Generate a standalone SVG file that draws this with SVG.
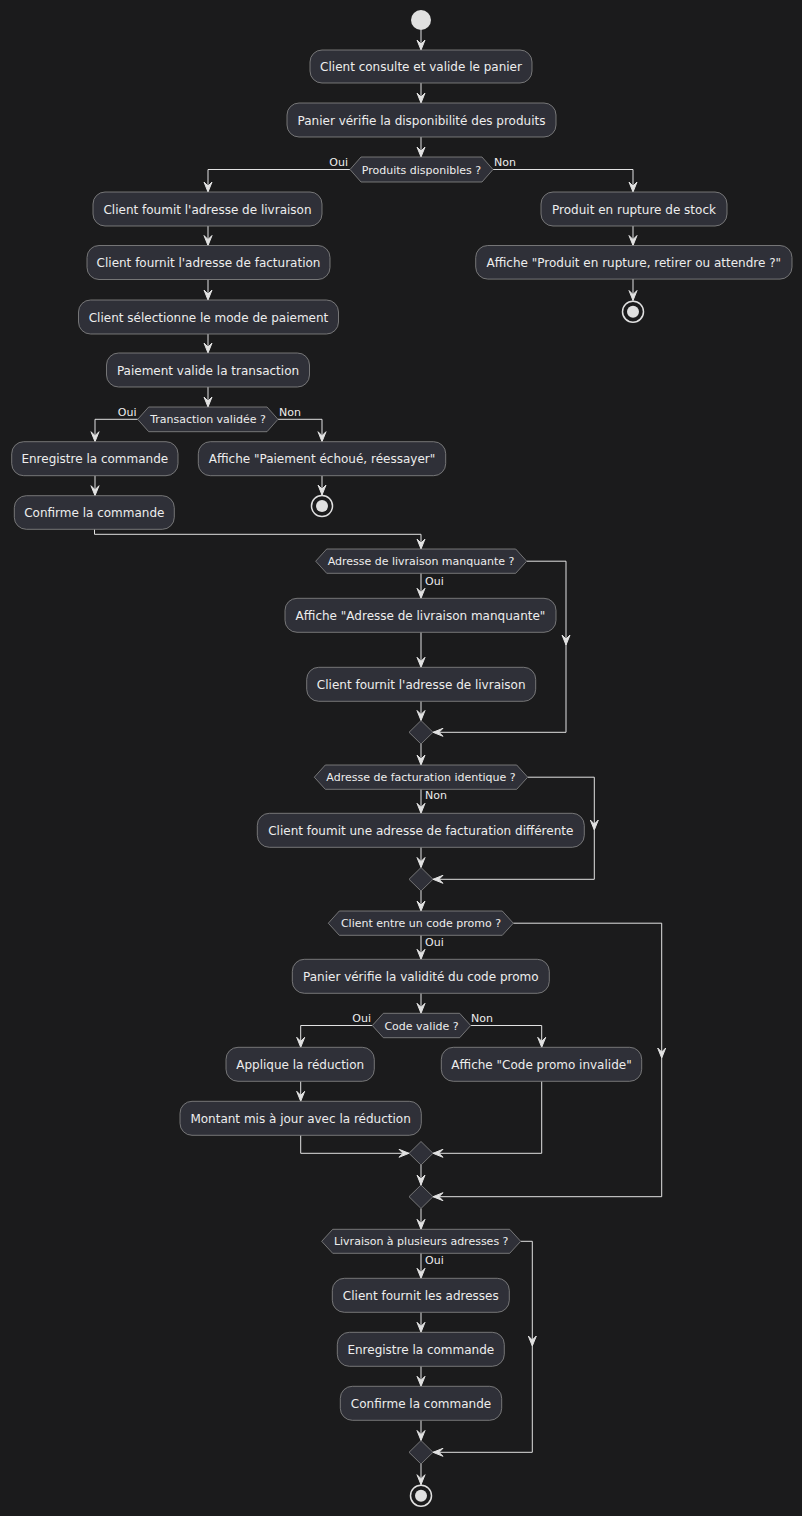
<svg xmlns="http://www.w3.org/2000/svg" xmlns:xlink="http://www.w3.org/1999/xlink" width="802" height="1516" viewBox="0 0 802 1516">
<style>
  .bg { fill: #1b1b1c; }
  .act { fill: #2f3038; stroke: #8a8a8a; stroke-width: 0.8; }
  .dec { fill: #2f3038; stroke: #8a8a8a; stroke-width: 0.8; }
  .t { font-family: "DejaVu Sans", sans-serif; font-size: 12px; fill: #ededed; text-anchor: middle; }
  .dt { font-family: "DejaVu Sans", sans-serif; font-size: 11px; fill: #ededed; text-anchor: middle; }
  .lbl { font-family: "DejaVu Sans", sans-serif; font-size: 11px; fill: #ededed; }
  .ln { fill: none; stroke: #e2e2e2; stroke-width: 1; }
  .ah { fill: #e2e2e2; stroke: #e2e2e2; stroke-width: 1; stroke-linejoin: round; }
  .start { fill: #e0e0e0; }
  .stopo { fill: none; stroke: #e0e0e0; stroke-width: 1.5; }
  .stopi { fill: #e0e0e0; }
</style>
<defs>
  <!-- arrowhead pointing down, tip at the origin -->
  <path id="ah" class="ah" d="M-4,-10 L0,0 L4,-10 L0,-6 Z"/>
</defs>
<rect class="bg" x="0" y="0" width="802" height="1516"/>

<g id="connectors">
  <path class="ln" d="M421,30 V50"/>
  <use href="#ah" transform="translate(421,50)"/>
  <path class="ln" d="M421,83 V103"/>
  <use href="#ah" transform="translate(421,103)"/>
  <path class="ln" d="M421,137 V157"/>
  <use href="#ah" transform="translate(421,157)"/>

  <!-- Produits disponibles ? -->
  <path class="ln" d="M350,169.5 H208 V192"/>
  <use href="#ah" transform="translate(208,192)"/>
  <path class="ln" d="M493,169.5 H633 V192"/>
  <use href="#ah" transform="translate(633,192)"/>

  <!-- left column -->
  <path class="ln" d="M208,226 V245.5"/>
  <use href="#ah" transform="translate(208,245.5)"/>
  <path class="ln" d="M208,279.5 V300"/>
  <use href="#ah" transform="translate(208,300)"/>
  <path class="ln" d="M208,334 V353"/>
  <use href="#ah" transform="translate(208,353)"/>
  <path class="ln" d="M208,387 V407"/>
  <use href="#ah" transform="translate(208,407)"/>

  <!-- Transaction validée ? -->
  <path class="ln" d="M137.7,419.3 H95 V441.7"/>
  <use href="#ah" transform="translate(95,441.7)"/>
  <path class="ln" d="M278,419.3 H322 V441.7"/>
  <use href="#ah" transform="translate(322,441.7)"/>
  <path class="ln" d="M95,475.7 V495.7"/>
  <use href="#ah" transform="translate(95,495.7)"/>
  <path class="ln" d="M322,475.7 V495"/>
  <use href="#ah" transform="translate(322,495)"/>
  <path class="ln" d="M94.5,529.3 V534.3 H421 V549"/>
  <use href="#ah" transform="translate(421,549)"/>

  <!-- right column -->
  <path class="ln" d="M633,226 V245.5"/>
  <use href="#ah" transform="translate(633,245.5)"/>
  <path class="ln" d="M633,279 V300.5"/>
  <use href="#ah" transform="translate(633,300.5)"/>

  <!-- Adresse de livraison manquante ? -->
  <path class="ln" d="M526.7,561.2 H566 V732.3 H433"/>
  <use href="#ah" transform="translate(566,645)"/>
  <use href="#ah" transform="translate(433,732.3) rotate(90)"/>
  <path class="ln" d="M421,573.3 V598.3"/>
  <use href="#ah" transform="translate(421,598.3)"/>
  <path class="ln" d="M421,632.3 V667.3"/>
  <use href="#ah" transform="translate(421,667.3)"/>
  <path class="ln" d="M421,701.3 V720.5"/>
  <use href="#ah" transform="translate(421,720.5)"/>
  <path class="ln" d="M421,744 V765"/>
  <use href="#ah" transform="translate(421,765)"/>

  <!-- Adresse de facturation identique ? -->
  <path class="ln" d="M527.7,777.2 H594.3 V879.3 H433"/>
  <use href="#ah" transform="translate(594.3,830)"/>
  <use href="#ah" transform="translate(433,879.3) rotate(90)"/>
  <path class="ln" d="M421,789.3 V813.3"/>
  <use href="#ah" transform="translate(421,813.3)"/>
  <path class="ln" d="M421,847.3 V867.5"/>
  <use href="#ah" transform="translate(421,867.5)"/>
  <path class="ln" d="M421,891 V911"/>
  <use href="#ah" transform="translate(421,911)"/>

  <!-- Client entre un code promo ? -->
  <path class="ln" d="M513.3,923.2 H661.7 V1196.7 H433"/>
  <use href="#ah" transform="translate(661.7,1058)"/>
  <use href="#ah" transform="translate(433,1196.7) rotate(90)"/>
  <path class="ln" d="M421,935.3 V959.3"/>
  <use href="#ah" transform="translate(421,959.3)"/>
  <path class="ln" d="M421,993.3 V1013.3"/>
  <use href="#ah" transform="translate(421,1013.3)"/>

  <!-- Code valide ? -->
  <path class="ln" d="M372.3,1025.5 H300.7 V1047.3"/>
  <use href="#ah" transform="translate(300.7,1047.3)"/>
  <path class="ln" d="M470.7,1025.5 H541.7 V1047.3"/>
  <use href="#ah" transform="translate(541.7,1047.3)"/>
  <path class="ln" d="M300.7,1081.3 V1101.3"/>
  <use href="#ah" transform="translate(300.7,1101.3)"/>
  <path class="ln" d="M300.7,1135.3 V1153.3 H409"/>
  <use href="#ah" transform="translate(409,1153.3) rotate(-90)"/>
  <path class="ln" d="M541.7,1081.3 V1153.3 H433"/>
  <use href="#ah" transform="translate(433,1153.3) rotate(90)"/>
  <path class="ln" d="M421,1165 V1185"/>
  <use href="#ah" transform="translate(421,1185)"/>
  <path class="ln" d="M421,1208.5 V1229.3"/>
  <use href="#ah" transform="translate(421,1229.3)"/>

  <!-- Livraison à plusieurs adresses ? -->
  <path class="ln" d="M520.7,1241.3 H532.3 V1452.3 H433"/>
  <use href="#ah" transform="translate(532.3,1346)"/>
  <use href="#ah" transform="translate(433,1452.3) rotate(90)"/>
  <path class="ln" d="M421,1253.3 V1278.3"/>
  <use href="#ah" transform="translate(421,1278.3)"/>
  <path class="ln" d="M421,1312.3 V1332.3"/>
  <use href="#ah" transform="translate(421,1332.3)"/>
  <path class="ln" d="M421,1366.3 V1386.3"/>
  <use href="#ah" transform="translate(421,1386.3)"/>
  <path class="ln" d="M421,1420.3 V1440.5"/>
  <use href="#ah" transform="translate(421,1440.5)"/>
  <path class="ln" d="M421,1464 V1484.7"/>
  <use href="#ah" transform="translate(421,1484.7)"/>

  <!-- branch labels -->
  <text class="lbl" x="348" y="166" text-anchor="end">Oui</text>
  <text class="lbl" x="494" y="166">Non</text>
  <text class="lbl" x="136.5" y="416" text-anchor="end">Oui</text>
  <text class="lbl" x="279" y="416">Non</text>
  <text class="lbl" x="425" y="585">Oui</text>
  <text class="lbl" x="425" y="799">Non</text>
  <text class="lbl" x="425" y="945.5">Oui</text>
  <text class="lbl" x="371" y="1022" text-anchor="end">Oui</text>
  <text class="lbl" x="471" y="1022">Non</text>
  <text class="lbl" x="425" y="1264">Oui</text>
</g>

<g id="start"><circle class="start" cx="421" cy="20" r="10"/></g>

<g id="n1"><rect class="act" x="310" y="50" width="222" height="33" rx="12"/><text class="t" x="421" y="71">Client consulte et valide le panier</text></g>
<g id="n2"><rect class="act" x="287" y="103" width="269" height="34" rx="12"/><text class="t" x="421.5" y="124.5">Panier vérifie la disponibilité des produits</text></g>
<g id="d1"><polygon class="dec" points="350,169.5 361,157 482,157 493,169.5 482,182 361,182"/><text class="dt" x="421.5" y="173.5">Produits disponibles ?</text></g>

<g id="n3"><rect class="act" x="93" y="192" width="229" height="34" rx="12"/><text class="t" x="207.5" y="213.5">Client foumit l'adresse de livraison</text></g>
<g id="n4"><rect class="act" x="87" y="245.5" width="243" height="34" rx="12"/><text class="t" x="208.5" y="267">Client fournit l'adresse de facturation</text></g>
<g id="n5"><rect class="act" x="78.5" y="300" width="260" height="34" rx="12"/><text class="t" x="208.5" y="321.5">Client sélectionne le mode de paiement</text></g>
<g id="n6"><rect class="act" x="106.5" y="353" width="203" height="34" rx="12"/><text class="t" x="208" y="374.5">Paiement valide la transaction</text></g>
<g id="d2"><polygon class="dec" points="137.7,419.3 148.7,407 267,407 278,419.3 267,431.7 148.7,431.7"/><text class="dt" x="208" y="423.3">Transaction validée ?</text></g>
<g id="n7"><rect class="act" x="11.7" y="441.7" width="166.3" height="34" rx="12"/><text class="t" x="94.8" y="463">Enregistre la commande</text></g>
<g id="n8"><rect class="act" x="14.3" y="495.7" width="160" height="33.6" rx="12"/><text class="t" x="94.3" y="517">Confirme la commande</text></g>
<g id="n9"><rect class="act" x="198.3" y="441.7" width="247.4" height="34" rx="12"/><text class="t" x="322" y="463">Affiche "Paiement échoué, réessayer"</text></g>
<g id="stop1"><circle class="stopo" cx="322" cy="506" r="10.5"/><circle class="stopi" cx="322" cy="506" r="6"/></g>

<g id="n10"><rect class="act" x="541" y="192" width="186" height="34" rx="12"/><text class="t" x="634" y="213.5">Produit en rupture de stock</text></g>
<g id="n11"><rect class="act" x="475.7" y="245.5" width="316.3" height="33.6" rx="12"/><text class="t" x="633.8" y="267">Affiche "Produit en rupture, retirer ou attendre ?"</text></g>
<g id="stop2"><circle class="stopo" cx="633" cy="311.7" r="10.5"/><circle class="stopi" cx="633" cy="311.7" r="6"/></g>

<g id="d3"><polygon class="dec" points="315.7,561.2 326.7,549 515.7,549 526.7,561.2 515.7,573.3 326.7,573.3"/><text class="dt" x="421" y="565.2">Adresse de livraison manquante ?</text></g>
<g id="n12"><rect class="act" x="285" y="598.3" width="271" height="34" rx="12"/><text class="t" x="420.5" y="619.8">Affiche "Adresse de livraison manquante"</text></g>
<g id="n13"><rect class="act" x="306.7" y="667.3" width="229" height="34" rx="12"/><text class="t" x="421.2" y="688.8">Client fournit l'adresse de livraison</text></g>
<g id="m1"><polygon class="dec" points="421,720.5 433,732.3 421,744 409,732.3"/></g>

<g id="d4"><polygon class="dec" points="314.3,777.2 325.3,765 516.7,765 527.7,777.2 516.7,789.3 325.3,789.3"/><text class="dt" x="421" y="781.2">Adresse de facturation identique ?</text></g>
<g id="n14"><rect class="act" x="257.3" y="813.3" width="327" height="34" rx="12"/><text class="t" x="420.8" y="834.8">Client foumit une adresse de facturation différente</text></g>
<g id="m2"><polygon class="dec" points="421,867.5 433,879.3 421,891 409,879.3"/></g>

<g id="d5"><polygon class="dec" points="328.3,923.2 339.3,911 502.3,911 513.3,923.2 502.3,935.3 339.3,935.3"/><text class="dt" x="421" y="927.2">Client entre un code promo ?</text></g>
<g id="n15"><rect class="act" x="292.3" y="959.3" width="257" height="34" rx="12"/><text class="t" x="420.8" y="980.8">Panier vérifie la validité du code promo</text></g>
<g id="d6"><polygon class="dec" points="372.3,1025.5 383.3,1013.3 459.7,1013.3 470.7,1025.5 459.7,1037.7 383.3,1037.7"/><text class="dt" x="421.5" y="1029.5">Code valide ?</text></g>
<g id="n16"><rect class="act" x="226" y="1047.3" width="148.3" height="34" rx="12"/><text class="t" x="300.2" y="1068.8">Applique la réduction</text></g>
<g id="n17"><rect class="act" x="180" y="1101.3" width="241.3" height="34" rx="12"/><text class="t" x="300.6" y="1122.8">Montant mis à jour avec la réduction</text></g>
<g id="n18"><rect class="act" x="441.3" y="1047.3" width="200.4" height="34" rx="12"/><text class="t" x="541.5" y="1068.8">Affiche "Code promo invalide"</text></g>
<g id="m3"><polygon class="dec" points="421,1141.5 433,1153.3 421,1165 409,1153.3"/></g>
<g id="m4"><polygon class="dec" points="421,1185 433,1196.7 421,1208.5 409,1196.7"/></g>

<g id="d7"><polygon class="dec" points="321.7,1241.3 332.7,1229.3 509.7,1229.3 520.7,1241.3 509.7,1253.3 332.7,1253.3"/><text class="dt" x="421.2" y="1245.3">Livraison à plusieurs adresses ?</text></g>
<g id="n19"><rect class="act" x="332.3" y="1278.3" width="177" height="34" rx="12"/><text class="t" x="420.8" y="1299.8">Client fournit les adresses</text></g>
<g id="n20"><rect class="act" x="337.3" y="1332.3" width="167" height="34" rx="12"/><text class="t" x="420.8" y="1353.8">Enregistre la commande</text></g>
<g id="n21"><rect class="act" x="340.3" y="1386.3" width="161.4" height="34" rx="12"/><text class="t" x="421" y="1407.8">Confirme la commande</text></g>
<g id="m5"><polygon class="dec" points="421,1440.5 433,1452.3 421,1464 409,1452.3"/></g>
<g id="stop3"><circle class="stopo" cx="421" cy="1495.7" r="10.5"/><circle class="stopi" cx="421" cy="1495.7" r="6"/></g>
</svg>
